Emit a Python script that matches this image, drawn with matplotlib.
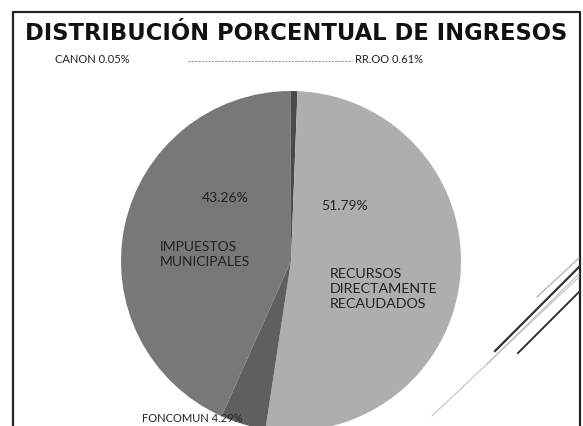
import matplotlib.pyplot as plt
from matplotlib.lines import Line2D

# Datos (porcentaje de ingresos), en el orden del grafico
categorias = ["RR.OO", "RECURSOS\nDIRECTAMENTE\nRECAUDADOS", "FONCOMUN",
              "IMPUESTOS\nMUNICIPALES", "CANON"]
porcentajes = [0.61, 51.79, 4.29, 43.26, 0.05]
colores = ["#4a4a4a", "#aeaeae", "#5f5f5f", "#787878", "#505050"]

W, H = 583, 427
fig = plt.figure(figsize=(W / 100, H / 100), dpi=100)
fig.patch.set_facecolor("white")

# marco de la diapositiva
fig.add_artist(Line2D([13 / W, 13 / W, 580 / W, 580 / W], [0, 1 - 13 / H, 1 - 13 / H, 0],
                      color="#222222", lw=1.6, transform=fig.transFigure))

fig.text(296 / W, 1 - 34 / H, "DISTRIBUCIÓN PORCENTUAL DE INGRESOS", ha="center", va="center",
         fontsize=16.3, fontweight="bold", family="DejaVu Sans", color="#111111")

# pie
cx, cy, r = 291, 262, 170
ax = fig.add_axes([(cx - r) / W, 1 - (cy + r) / H, 2 * r / W, 2 * r / H])
ax.pie(porcentajes, colors=colores, startangle=90, counterclock=False, radius=1,
       wedgeprops=dict(linewidth=0))
ax.set_xlim(-1, 1)
ax.set_ylim(-1, 1)
ax.axis("off")


def px(x, y):
    return (x - cx) / r, (cy - y) / r


fuente = "Lato"
ax.text(*px(225, 198), f"{porcentajes[3]:.2f}%", ha="center", va="center", fontsize=10,
        family=fuente, color="#222222")
ax.text(*px(160, 255), categorias[3], ha="left", va="center", fontsize=10,
        family=fuente, color="#222222", linespacing=1.3)
ax.text(*px(345, 206), f"{porcentajes[1]:.2f}%", ha="center", va="center", fontsize=10,
        family=fuente, color="#222222")
ax.text(*px(330, 289), categorias[1], ha="left", va="center", fontsize=10.3,
        family=fuente, color="#222222", linespacing=1.35)

# etiquetas externas
fig.text(55 / W, 1 - 60 / H, f"{categorias[4]} {porcentajes[4]:.2f}%", ha="left", va="center",
         fontsize=8, family=fuente, color="#222222")
fig.text(355 / W, 1 - 60 / H, f"{categorias[0]} {porcentajes[0]:.2f}%", ha="left", va="center",
         fontsize=8, family=fuente, color="#222222")
fig.text(142 / W, 1 - 419 / H, f"{categorias[2]} {porcentajes[2]:.2f}%", ha="left", va="center",
         fontsize=8, family=fuente, color="#222222")

# linea guia punteada
fig.add_artist(Line2D([188 / W, 352 / W], [1 - 62 / H, 1 - 62 / H], color="#999999", lw=0.8,
                      ls=(0, (2, 1)), transform=fig.transFigure))

# lineas decorativas de la esquina
for (x0, y0, x1, y1, c, lw) in [(537, 298, 579, 259, "#aaaaaa", 0.8),
                                 (495, 352, 579, 268, "#333333", 1.6),
                                 (487, 365, 579, 275, "#bbbbbb", 0.8),
                                 (518, 354, 579, 293, "#333333", 1.4),
                                 (432, 417, 579, 278, "#bbbbbb", 0.7)]:
    fig.add_artist(Line2D([x0 / W, x1 / W], [1 - y0 / H, 1 - y1 / H], color=c, lw=lw,
                          transform=fig.transFigure))

fig.savefig("out.png", dpi=100)
